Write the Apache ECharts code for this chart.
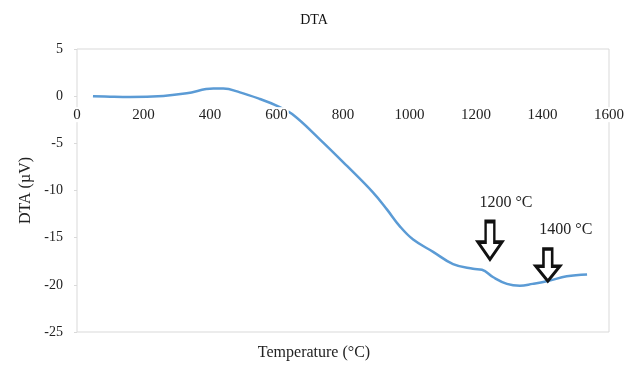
<!DOCTYPE html>
<html>
<head>
<meta charset="utf-8">
<script src="https://cdn.jsdelivr.net/npm/echarts@6/dist/echarts.min.js"></script>
<style>html,body{margin:0;padding:0;background:#fff;}#c{width:628px;height:367px;}</style>
</head>
<body>
<div id="c"></div>
<script>
var temperatures = [48,100,160,260,330,410,440,490,550,600,647,731,812,890,932,971,1011,1071,1131,1191,1218,1252,1293,1332,1370,1416,1473,1534];
var dtaValues = [0,-0.05,-0.08,0.03,0.3,0.8,0.8,0.4,-0.3,-1.0,-1.9,-4.6,-7.4,-10.2,-12,-13.8,-15.2,-16.5,-17.8,-18.3,-18.4,-19.2,-19.9,-20.1,-19.9,-19.6,-19.1,-18.9];
var xTicks = [0,200,400,600,800,1000,1200,1400,1600];
var yTicks = [5,0,-5,-10,-15,-20,-25];
var annotations = [
  {label: '1200 °C', coord: [1242, -15.3], size: [24, 38], offset: [16, 0]},
  {label: '1400 °C', coord: [1416, -17.9], size: [24, 32], offset: [18, 0]}
];

var serif = 'Liberation Serif';
var arrowPath = 'path://M8,0 L16,0 L16,20 L23,20 L12,37 L1,20 L8,20 Z';
var chart = echarts.init(document.getElementById('c'));
var gridTop = 49, gridBottom = 35, H = 367;
chart.setOption({
  animation: false,
  backgroundColor: '#fff',
  title: {
    text: 'DTA', left: 'center', top: 8,
    textStyle: {fontFamily: serif, fontSize: 14, fontWeight: 'normal', color: '#111'}
  },
  grid: {left: 77, right: 19, top: gridTop, bottom: gridBottom, show: true, borderColor: '#d9d9d9', borderWidth: 1},
  xAxis: {
    type: 'value', min: xTicks[0], max: xTicks[xTicks.length-1], interval: 200,
    position: 'bottom',
    z: 5,
    axisLine: {show: true, onZero: false, lineStyle: {color: 'rgba(0,0,0,0)'}},
    axisTick: {show: false},
    splitLine: {show: false},
    axisLabel: {fontFamily: serif, fontSize: 15, color: '#222', margin: 11,
                backgroundColor: '#fff', padding: [0, 1],
                formatter: function(v){ return String(v); }}
  },
  yAxis: {
    type: 'value', min: yTicks[yTicks.length-1], max: yTicks[0], interval: 5,
    name: 'DTA (µV)', nameLocation: 'middle', nameGap: 42, nameRotate: 90,
    nameTextStyle: {fontFamily: serif, fontSize: 16, color: '#222'},
    axisLine: {show: false},
    axisTick: {show: true, inside: false, length: 3, lineStyle: {color: '#d9d9d9'}},
    splitLine: {show: false},
    axisLabel: {fontFamily: serif, fontSize: 14, color: '#222', margin: 14}
  },
  graphic: [{
    type: 'text', left: 'center', top: 345,
    style: {text: 'Temperature (°C)', font: '16px "Liberation Serif"', fill: '#222'}
  }],
  series: [{
    type: 'line',
    data: temperatures.map(function(t, i){ return [t, dtaValues[i]]; }),
    smooth: 0.4,
    showSymbol: false,
    lineStyle: {color: '#5b9bd5', width: 2.5},
    markPoint: {
      symbol: arrowPath,
      symbolKeepAspect: false,
      itemStyle: {color: '#fff', borderColor: '#111', borderWidth: 3},
      data: annotations.map(function(a){
        return {
          coord: a.coord, symbolSize: a.size,
          label: {show: true, formatter: a.label, position: 'top', distance: 9, offset: a.offset,
                  fontFamily: serif, fontSize: 16, color: '#222'}
        };
      })
    }
  }]
});
// place the x axis labels on the y = 0 line, as in the reference
var zeroY = chart.convertToPixel({yAxisIndex: 0}, 0);
var bottomY = H - gridBottom;
chart.setOption({xAxis: {offset: -(bottomY - zeroY)}});
</script>
</body>
</html>
